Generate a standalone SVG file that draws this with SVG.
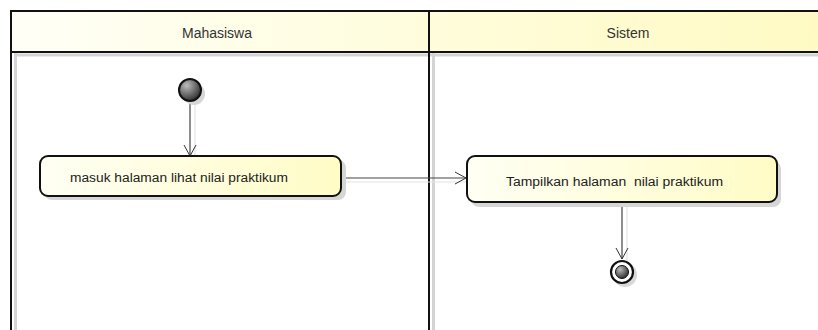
<svg xmlns="http://www.w3.org/2000/svg" width="818" height="330" viewBox="0 0 818 330">
<defs>
<linearGradient id="hdr" x1="0" y1="0" x2="1" y2="0">
<stop offset="0" stop-color="#fffff6"/>
<stop offset="1" stop-color="#fffac2"/>
</linearGradient>
<linearGradient id="box" x1="0" y1="0" x2="1" y2="0">
<stop offset="0" stop-color="#fffff4"/>
<stop offset="1" stop-color="#fffcc6"/>
</linearGradient>
<radialGradient id="ball" cx="0.35" cy="0.3" r="0.75">
<stop offset="0" stop-color="#bdbdbd"/>
<stop offset="1" stop-color="#2a2a2a"/>
</radialGradient>
<marker id="arr" markerWidth="14" markerHeight="14" refX="12" refY="7" orient="auto" markerUnits="userSpaceOnUse">
<path d="M1,1 L12,7 L1,13" fill="none" stroke="#333" stroke-width="1"/>
</marker>
<style>
.lane{fill:none;stroke:#111;stroke-width:2}
.sh{fill:none;stroke:#d4d4d4;stroke-width:3}
.hdrtxt{font-family:"Liberation Sans",Arial,sans-serif;font-size:14px;fill:#333;text-anchor:middle}
.act{fill:url(#box);stroke:#111;stroke-width:2}
.ashadow{fill:#d6d6d6}
.atxt{font-family:"Liberation Sans",Arial,sans-serif;font-size:12.5px;fill:#222}
.conn{fill:none;stroke:#444;stroke-width:1.2}
.cshadow{fill:none;stroke:#e4e4e4;stroke-width:1.2}
</style>
</defs>
<rect width="818" height="330" fill="#fff"/>
<g id="swimlanes">
<rect x="11" y="11" width="830" height="41" fill="url(#hdr)"/>
<line class="sh" x1="15" y1="55" x2="818" y2="55"/>
<line class="sh" x1="15.5" y1="53" x2="15.5" y2="330"/>
<line class="sh" x1="433.5" y1="53" x2="433.5" y2="330"/>
<line class="lane" x1="11" y1="11" x2="818" y2="11"/>
<line class="lane" x1="11" y1="52" x2="818" y2="52"/>
<line class="lane" x1="11" y1="10" x2="11" y2="330"/>
<line class="lane" x1="429" y1="11" x2="429" y2="330"/>
<text class="hdrtxt" x="217" y="38">Mahasiswa</text>
<text class="hdrtxt" x="628" y="38">Sistem</text>
</g>
<g id="connectors">
<line class="cshadow" x1="195" y1="104" x2="195" y2="158"/>
<line class="cshadow" x1="343" y1="182" x2="467" y2="182"/>
<line class="cshadow" x1="627" y1="205" x2="627" y2="262"/>
<line class="conn" x1="190" y1="101" x2="190" y2="156" marker-end="url(#arr)"/>
<line class="conn" x1="342" y1="178" x2="466" y2="178" marker-end="url(#arr)"/>
<line class="conn" x1="622" y1="203" x2="622" y2="259" marker-end="url(#arr)"/>
</g>
<g id="start">
<circle cx="194" cy="94" r="11" fill="#d6d6d6"/>
<circle cx="190" cy="90" r="11" fill="url(#ball)" stroke="#111" stroke-width="2"/>
</g>
<g id="act1">
<rect class="ashadow" x="44" y="160" width="302" height="40" rx="8"/>
<rect class="act" x="40" y="156" width="301" height="40" rx="8"/>
<text class="atxt" x="70" y="182" textLength="218" lengthAdjust="spacingAndGlyphs">masuk halaman lihat nilai praktikum</text>
</g>
<g id="act2">
<rect class="ashadow" x="471" y="161" width="310" height="46" rx="8"/>
<rect class="act" x="467" y="156" width="310" height="46" rx="8"/>
<text class="atxt" x="506" y="186" textLength="217" lengthAdjust="spacingAndGlyphs" xml:space="preserve">Tampilkan halaman  nilai praktikum</text>
</g>
<g id="end">
<circle cx="625" cy="275" r="12" fill="#dadada"/>
<circle cx="622" cy="272" r="11" fill="#fff" stroke="#111" stroke-width="2.2"/>
<circle cx="622" cy="272" r="6.5" fill="url(#ball)" stroke="#111" stroke-width="1"/>
</g>
</svg>
